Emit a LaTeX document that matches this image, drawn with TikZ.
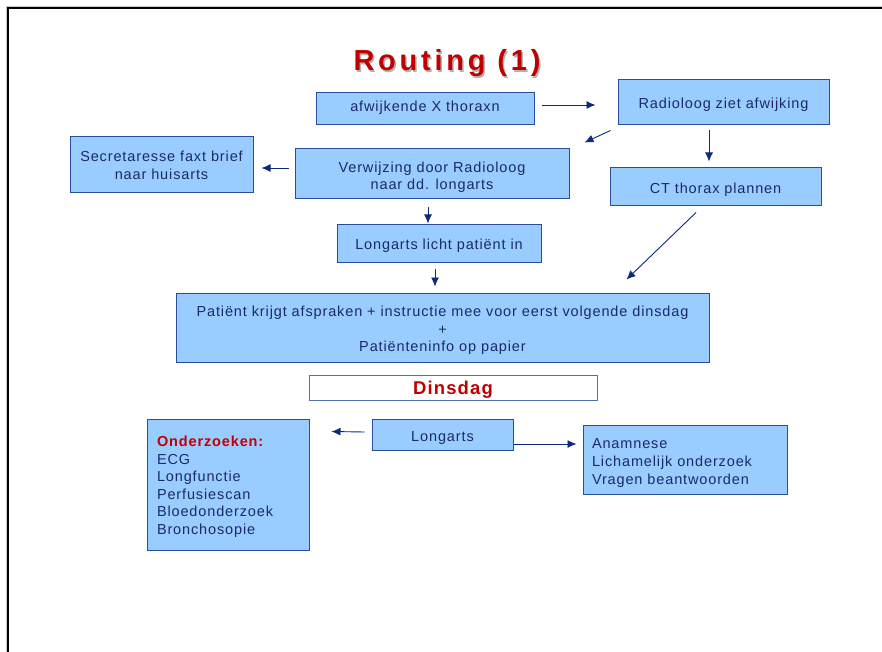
\documentclass[tikz,border=0pt]{standalone}
\usepackage{fontspec}
\setmainfont{Liberation Sans}[LetterSpace=6]
\newfontfamily\titfont{Liberation Sans}[LetterSpace=13]
\usetikzlibrary{arrows.meta}
\definecolor{boxfill}{HTML}{99CCFF}
\definecolor{boxline}{HTML}{2A4C9C}
\definecolor{dinline}{HTML}{5572B0}
\definecolor{txtcol}{HTML}{1B2A6B}
\definecolor{arrcol}{HTML}{0A2A7A}
\definecolor{redtxt}{HTML}{C00000}
\newcommand\ctext[2][-3pt]{\raisebox{#1}[\height][\depth]{\begin{tabular}{@{}c@{}}#2\end{tabular}}}
\newcommand\ltext[3][-3pt]{\raisebox{#1}[\height][\depth]{\begin{tabular}{@{}p{#2}@{}}#3\end{tabular}}}
\begin{document}
\begin{tikzpicture}[x=1pt,y=-1pt,
  box/.style={draw=boxline, fill=boxfill, line width=1pt, text=txtcol,
    font=\fontsize{14.5}{17.5}\selectfont, inner sep=0pt},
  arr/.style={draw=arrcol, line width=0.9pt, -{Latex[length=9pt,width=8pt]}},
  titlestyle/.style={font=\titfont\fontsize{29}{31}\selectfont\bfseries, anchor=base, inner sep=0pt}
]
\useasboundingbox (0,0) rectangle (882,652);
\fill[white] (0,0) rectangle (882,652);
\draw[gray!45, line width=1pt] (6.3,652) -- (6.3,6.3) -- (882,6.3);
\draw[black, line width=1.8pt] (8.2,652) -- (8.2,8.2) -- (882,8.2);

\node[titlestyle, text=gray!60] (titsh) at (448.5,72.5) {Routing (1)};
\node[titlestyle, text=redtxt] (tit) at (447,71) {Routing (1)};

\node[box, minimum width=218pt, minimum height=32pt] (afw) at (425,109) {\ctext[1pt]{afwijkende X thoraxn}};
\node[box, minimum width=211pt, minimum height=45pt] (rad) at (723.5,102.5) {\ctext{Radioloog ziet afwijking}};
\node[box, minimum width=183pt, minimum height=56pt, font=\fontsize{14.5}{18}\selectfont] (sec) at (161.5,165) {\ctext[-2pt]{Secretaresse faxt brief\\naar huisarts}};
\node[box, minimum width=274pt, minimum height=50pt] (ver) at (432,174) {\ctext[-3.5pt]{Verwijzing door Radioloog\\naar dd. longarts}};
\node[box, minimum width=211pt, minimum height=38pt] (ct) at (715.5,187) {\ctext{CT thorax plannen}};
\node[box, minimum width=204pt, minimum height=38pt] (lon1) at (439,243) {\ctext{Longarts licht patiënt in}};
\node[box, minimum width=533pt, minimum height=69pt] (pat) at (442.5,327.5) {\ctext{Patiënt krijgt afspraken + instructie mee voor eerst volgende dinsdag\\+\\Patiënteninfo op papier}};
\node[box, fill=white, draw=dinline, minimum width=288pt, minimum height=25pt, text=redtxt,
  font=\fontsize{18.5}{21}\selectfont\bfseries] (din) at (453,387.5) {\ctext{Dinsdag}};
\node[box, minimum width=141pt, minimum height=31pt] (lon2) at (442.5,434.5) {\ctext{Longarts}};
\node[box, minimum width=162pt, minimum height=131pt] (ond) at (228,484.5)
  {\ltext[3pt]{142pt}{{\color{redtxt}\bfseries Onderzoeken:}\\ECG\\Longfunctie\\Perfusiescan\\Bloedonderzoek\\Bronchosopie}};
\node[box, minimum width=204pt, minimum height=69pt, font=\fontsize{14.5}{18}\selectfont] (ana) at (685,459.5)
  {\ltext[-3pt]{186pt}{Anamnese\\Lichamelijk onderzoek\\Vragen beantwoorden}};

\draw[arr] ([shift={(7,-4)}]afw.east) -- ([shift={(-22,2.5)}]rad.west);
\draw[arr] ([shift={(-7,5)}]rad.south west) -- ([shift={(15,-6)}]ver.north east);
\draw[arr] ([shift={(-14.5,5)}]rad.south) -- ([shift={(-6.5,-6)}]ct.north);
\draw[arr] ([shift={(-6,-6)}]ver.west) -- ([shift={(8,3)}]sec.east);
\draw[arr] ([shift={(-4,8)}]ver.south) -- ([shift={(-11,0)}]lon1.north);
\draw[arr] ([shift={(-4,6)}]lon1.south) -- ([shift={(-7.5,-6)}]pat.north);
\draw[arr] ([shift={(-19.5,6)}]ct.south) -- ([shift={(-83,-13)}]pat.north east);
\draw[arr] ([shift={(-7,-2.5)}]lon2.west) -- ([shift={(22,13)}]ond.north east);
\draw[arr] ([shift={(0,9.5)}]lon2.east) -- ([shift={(-6,-15.5)}]ana.west);
\end{tikzpicture}
\end{document}
